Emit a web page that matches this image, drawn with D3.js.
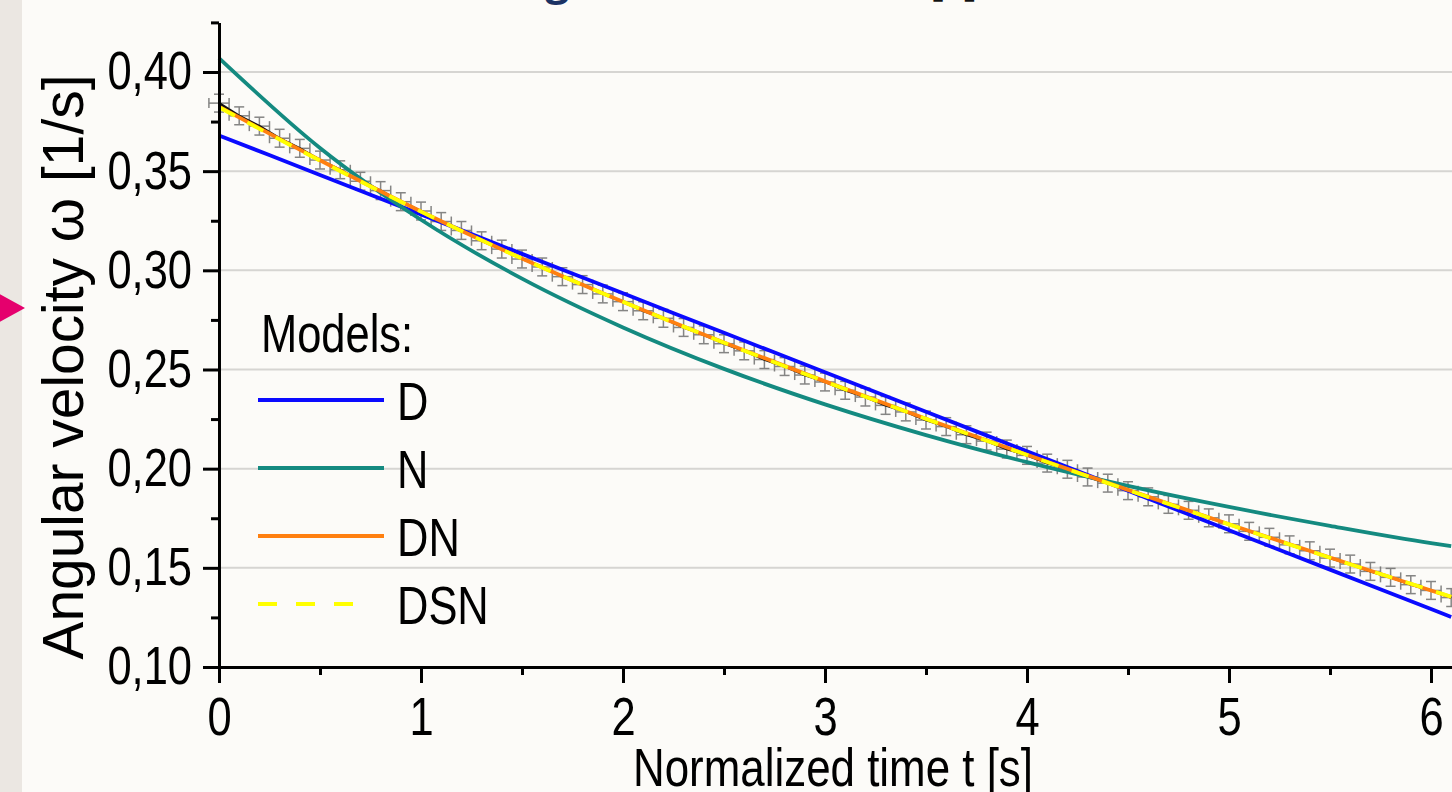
<!DOCTYPE html>
<html>
<head>
<meta charset="utf-8">
<script src="https://cdn.jsdelivr.net/npm/d3@7"></script>
<style>
  body { margin: 0; background: #fcfbf8; }
  svg { display: block; }
</style>
</head>
<body>
<div id="chart"></div>
<script>
// measured angular velocity (black points with error bars)
var measuredT = [0.0, 0.1, 0.2, 0.3, 0.4, 0.5, 0.6, 0.7, 0.8, 0.9,
                 1.0, 1.1, 1.2, 1.3, 1.4, 1.5, 1.6, 1.7, 1.8, 1.9,
                 2.0, 2.1, 2.2, 2.3, 2.4, 2.5, 2.6, 2.7, 2.8, 2.9,
                 3.0, 3.1, 3.2, 3.3, 3.4, 3.5, 3.6, 3.7, 3.8, 3.9,
                 4.0, 4.1, 4.2, 4.3, 4.4, 4.5, 4.6, 4.7, 4.8, 4.9,
                 5.0, 5.1, 5.2, 5.3, 5.4, 5.5, 5.6, 5.7, 5.8, 5.9,
                 6.0, 6.1];
var measuredW = [0.3843, 0.3779, 0.3727, 0.3666, 0.3615, 0.3556, 0.3507, 0.3449, 0.3402, 0.3346,
                 0.3299, 0.3246, 0.3201, 0.3149, 0.3107, 0.3057, 0.3017, 0.2968, 0.2928, 0.2881,
                 0.2842, 0.2796, 0.2758, 0.2712, 0.2675, 0.2630, 0.2594, 0.2550, 0.2515, 0.2472,
                 0.2437, 0.2395, 0.2361, 0.2319, 0.2286, 0.2245, 0.2212, 0.2171, 0.2139, 0.2099,
                 0.2067, 0.2028, 0.1997, 0.1958, 0.1927, 0.1889, 0.1858, 0.1820, 0.1790, 0.1752,
                 0.1722, 0.1684, 0.1654, 0.1616, 0.1586, 0.1549, 0.1519, 0.1482, 0.1452, 0.1415,
                 0.1386, 0.1350];

// model curves
var modelT = [0, 0.5, 1, 1.5, 2, 2.5, 3, 3.5, 4, 4.5, 5, 5.5, 6, 6.1];
var modelD   = [0.3680, 0.3481, 0.3282, 0.3083, 0.2884, 0.2685, 0.2486, 0.2287, 0.2088, 0.1889, 0.1690, 0.1491, 0.1292, 0.1252];
var modelN   = [0.4070, 0.3617, 0.3255, 0.2958, 0.2712, 0.2503, 0.2324, 0.2169, 0.2033, 0.1913, 0.1807, 0.1712, 0.1625, 0.1610];
var modelDN  = [0.3825, 0.3555, 0.3297, 0.3060, 0.2842, 0.2636, 0.2440, 0.2252, 0.2070, 0.1893, 0.1720, 0.1552, 0.1386, 0.1353];
var modelDSN = [0.3822, 0.3553, 0.3296, 0.3059, 0.2841, 0.2635, 0.2439, 0.2251, 0.2069, 0.1892, 0.1719, 0.1551, 0.1387, 0.1354];

var legendNames  = ["D", "N", "DN", "DSN"];
var legendColors = ["#0a0aff", "#148a80", "#ff8010", "#ffff00"];

var yMajor = [0.10, 0.15, 0.20, 0.25, 0.30, 0.35, 0.40];
var yMinor = [0.125, 0.175, 0.225, 0.275, 0.325, 0.375, 0.425];
var xMajor = [0, 1, 2, 3, 4, 5, 6];
var xMinor = [0.5, 1.5, 2.5, 3.5, 4.5, 5.5];

var W = 1452, H = 792;
var font = "'Liberation Sans', Arial, sans-serif";

// the figure uses a narrow sans; squeeze the glyphs to match
function narrow(sel, len) {
  sel.each(function() {
    var w = len || this.getComputedTextLength() * 0.82;
    d3.select(this).attr("textLength", w).attr("lengthAdjust", "spacingAndGlyphs");
  });
}

var svg = d3.select("#chart").append("svg")
    .attr("width", W)
    .attr("height", H);

svg.append("rect").attr("width", W).attr("height", H).attr("fill", "#fcfbf8");

// slide left strip + pink marker
svg.append("rect").attr("x", 0).attr("y", 0).attr("width", 22).attr("height", H).attr("fill", "#ebe7e2");
svg.append("path").attr("d", "M-4,292 L25,308 L-4,324 Z").attr("fill", "#e5006d");

// cut-off slide title
var title = svg.append("text")
    .attr("x", 58).attr("y", -5)
    .attr("font-family", "'Open Sans', sans-serif")
    .attr("font-weight", 700)
    .attr("font-size", 42)
    .attr("fill", "#1b3264");
title.append("tspan").text("Measured data and drag models in time ");
title.append("tspan").attr("x", 930).attr("fill", "#111").attr("font-weight", 400).text("[s]");

var x = d3.scaleLinear().domain([0, 6.104]).range([219, 1452]);
var y = d3.scaleLinear().domain([0.10, 0.425]).range([667, 22.4]);

// grid lines
svg.append("g").selectAll("line")
  .data(yMajor.slice(1))
  .enter().append("line")
    .attr("x1", x(0)).attr("x2", W)
    .attr("y1", function(d) { return y(d); })
    .attr("y2", function(d) { return y(d); })
    .attr("stroke", "#d6d5d2")
    .attr("stroke-width", 2);

// measured points with error bars
var pts = measuredT.map(function(t, i) { return {t: t, w: measuredW[i]}; });
var eb = svg.append("g").attr("stroke", "#5e5e5e").attr("stroke-width", 1.5).attr("opacity", 0.75);
pts.forEach(function(p) {
  var cx = x(p.t), cy = y(p.w);
  var ey = y(p.w - 0.0045) - cy;
  var ex = x(p.t + 0.05) - cx;
  eb.append("line").attr("x1", cx).attr("x2", cx).attr("y1", cy - ey).attr("y2", cy + ey);
  eb.append("line").attr("x1", cx - 5).attr("x2", cx + 5).attr("y1", cy - ey).attr("y2", cy - ey);
  eb.append("line").attr("x1", cx - 5).attr("x2", cx + 5).attr("y1", cy + ey).attr("y2", cy + ey);
  eb.append("line").attr("x1", cx - ex).attr("x2", cx + ex).attr("y1", cy).attr("y2", cy);
  eb.append("line").attr("x1", cx - ex).attr("x2", cx - ex).attr("y1", cy - 5).attr("y2", cy + 5);
  eb.append("line").attr("x1", cx + ex).attr("x2", cx + ex).attr("y1", cy - 5).attr("y2", cy + 5);
});

var dataLine = d3.line()
    .x(function(d) { return x(d.t); })
    .y(function(d) { return y(d.w); });
svg.append("path")
    .datum(pts)
    .attr("d", dataLine)
    .attr("fill", "none")
    .attr("stroke", "#111")
    .attr("stroke-width", 2.4);

// model curves
var modelLine = d3.line()
    .x(function(d, i) { return x(modelT[i]); })
    .y(function(d) { return y(d); })
    .curve(d3.curveMonotoneX);

var models = [modelD, modelN, modelDN, modelDSN];
models.forEach(function(m, i) {
  svg.append("path")
    .datum(m)
    .attr("d", modelLine)
    .attr("fill", "none")
    .attr("stroke", legendColors[i])
    .attr("stroke-width", 3.8)
    .attr("stroke-dasharray", i == 3 ? "18,14" : null);
});

// axes
var fmt = function(d) { return d3.format(".2f")(d).replace(".", ","); };

svg.append("g")
    .attr("transform", "translate(" + x(0) + ",0)")
    .call(d3.axisLeft(y).tickValues(yMajor).tickFormat(fmt).tickSize(16).tickSizeOuter(0).tickPadding(11));
svg.append("g")
    .attr("transform", "translate(" + x(0) + ",0)")
    .call(d3.axisLeft(y).tickValues(yMinor).tickFormat("").tickSize(8).tickSizeOuter(0));

svg.append("g")
    .attr("transform", "translate(0," + y(0.10) + ")")
    .call(d3.axisBottom(x).tickValues(xMajor).tickFormat(d3.format("d")).tickSize(16).tickSizeOuter(0).tickPadding(14));
svg.append("g")
    .attr("transform", "translate(0," + y(0.10) + ")")
    .call(d3.axisBottom(x).tickValues(xMinor).tickFormat("").tickSize(8).tickSizeOuter(0));

svg.selectAll(".domain, .tick line")
    .attr("stroke", "#000")
    .attr("stroke-width", 3);
svg.selectAll(".tick text")
    .attr("font-family", font)
    .attr("font-size", 53)
    .attr("fill", "#000")
    .call(narrow);

// axis titles
svg.append("text")
    .attr("x", 833).attr("y", 786)
    .attr("text-anchor", "middle")
    .attr("font-family", font)
    .attr("font-size", 53)
    .text("Normalized time t [s]")
    .call(narrow, 400);

svg.append("text")
    .attr("transform", "translate(83,367) rotate(-90)")
    .attr("text-anchor", "middle")
    .attr("font-family", font)
    .attr("font-size", 58)
    .text("Angular velocity ω [1/s]")
    .call(narrow, 585);

// legend
var lg = svg.append("g").attr("font-family", font).attr("font-size", 53);
lg.append("text").attr("x", 261).attr("y", 352).text("Models:").call(narrow);
legendNames.forEach(function(name, i) {
  var ly = 400 + i * 68;
  lg.append("line")
    .attr("x1", 258).attr("x2", i == 3 ? 353 : 384)
    .attr("y1", ly).attr("y2", ly)
    .attr("stroke", legendColors[i])
    .attr("stroke-width", 4)
    .attr("stroke-dasharray", i == 3 ? "19,19" : null);
  lg.append("text").attr("x", 397).attr("y", ly + 20).text(name).call(narrow);
});
</script>
</body>
</html>
